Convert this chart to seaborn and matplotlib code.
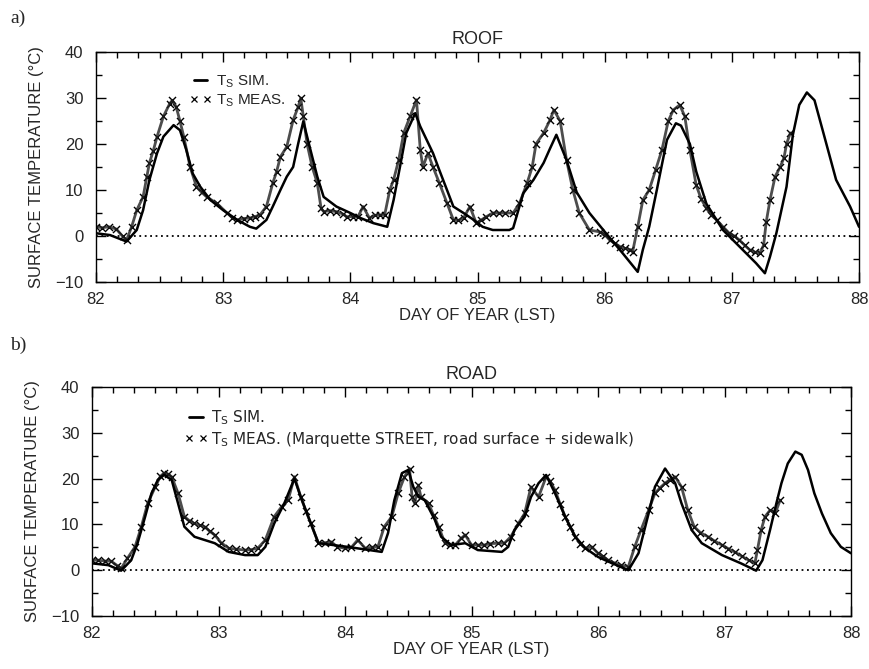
import matplotlib
matplotlib.use("Agg")
import matplotlib.pyplot as plt
from matplotlib.lines import Line2D
from matplotlib.ticker import MultipleLocator
import seaborn as sns

# ---- ROOF (panel a) ----
roof_sim_day = [82.00, 82.11, 82.24, 82.32, 82.37, 82.42, 82.48, 82.53, 82.61, 82.66,
                82.71, 82.76, 82.82, 82.90, 83.00, 83.11, 83.21, 83.26, 83.34, 83.39,
                83.45, 83.50, 83.55, 83.59, 83.63, 83.68, 83.74, 83.79, 83.89, 84.00,
                84.08, 84.18, 84.29, 84.34, 84.39, 84.44, 84.51, 84.55, 84.60, 84.65,
                84.70, 84.76, 84.81, 84.89, 84.97, 85.04, 85.12, 85.25, 85.28, 85.36,
                85.44, 85.52, 85.57, 85.62, 85.70, 85.78, 85.88, 86.01, 86.14, 86.26,
                86.30, 86.35, 86.41, 86.45, 86.49, 86.56, 86.60, 86.67, 86.72, 86.80,
                86.93, 87.06, 87.19, 87.26, 87.30, 87.35, 87.43, 87.48, 87.53, 87.59,
                87.65, 87.72, 87.82, 87.93, 88.00]
roof_sim_temp = [0.6, 0.2, -1.2, 1.3, 5.6, 12.2, 18.0, 21.6, 24.1, 23.0,
                 18.7, 13.6, 10.7, 7.8, 5.6, 3.5, 2.0, 1.6, 3.5, 6.4,
                 10.0, 12.9, 15.0, 20.1, 24.9, 19.4, 12.9, 8.5, 6.4, 5.0,
                 3.9, 2.8, 2.0, 7.8, 15.0, 22.4, 26.7, 23.8, 20.9, 18.0,
                 14.3, 10.0, 6.4, 5.0, 3.5, 2.0, 1.3, 1.3, 1.7, 9.3,
                 12.2, 15.9, 19.0, 22.0, 16.5, 9.5, 5.0, 0.6, -3.7, -7.8,
                 -3.0, 2.0, 10.0, 15.5, 20.9, 24.5, 24.0, 20.0, 14.0, 7.0,
                 1.3, -2.3, -5.9, -8.1, -4.5, 0.6, 10.7, 22.0, 28.5, 31.2,
                 29.5, 22.4, 12.2, 6.4, 2.0]

roof_meas_day = [82.00, 82.05, 82.10, 82.16, 82.21, 82.24, 82.28, 82.32, 82.37, 82.40,
                 82.42, 82.45, 82.48, 82.53, 82.58, 82.60, 82.63, 82.66, 82.69, 82.74,
                 82.79, 82.83, 82.87, 82.95, 83.03, 83.07, 83.11, 83.16, 83.21, 83.25,
                 83.29, 83.34, 83.39, 83.42, 83.45, 83.50, 83.55, 83.59, 83.61, 83.63,
                 83.66, 83.70, 83.74, 83.77, 83.79, 83.84, 83.89, 83.94, 83.97, 84.02,
                 84.06, 84.10, 84.15, 84.19, 84.23, 84.27, 84.31, 84.34, 84.38, 84.42,
                 84.47, 84.52, 84.55, 84.57, 84.61, 84.65, 84.70, 84.76, 84.81, 84.85,
                 84.89, 84.94, 84.99, 85.03, 85.07, 85.12, 85.17, 85.22, 85.28, 85.33,
                 85.39, 85.43, 85.46, 85.52, 85.57, 85.60, 85.65, 85.70, 85.75, 85.80,
                 85.88, 85.96, 86.00, 86.04, 86.08, 86.12, 86.16, 86.20, 86.22, 86.26,
                 86.30, 86.35, 86.40, 86.45, 86.50, 86.54, 86.59, 86.63, 86.67, 86.72,
                 86.76, 86.80, 86.84, 86.88, 86.93, 86.98, 87.02, 87.06, 87.10, 87.14,
                 87.18, 87.22, 87.25, 87.27, 87.30, 87.34, 87.38, 87.41, 87.43, 87.46]
roof_meas_temp = [2.0, 1.8, 2.0, 1.5, -0.1, -0.9, 2.0, 5.6, 8.5, 12.9,
                  15.9, 18.5, 21.6, 26.0, 28.8, 29.5, 28.1, 25.0, 21.6, 15.0,
                  10.7, 9.5, 8.5, 7.1, 5.0, 4.0, 3.5, 3.8, 3.9, 4.2,
                  4.6, 6.4, 11.5, 14.0, 17.2, 19.4, 25.2, 28.1, 30.0, 26.0,
                  20.0, 15.0, 11.5, 6.0, 5.3, 5.5, 5.3, 4.8, 4.2, 4.2,
                  4.2, 6.4, 3.9, 4.5, 4.6, 4.6, 10.0, 12.2, 16.5, 22.4,
                  26.0, 29.6, 18.7, 15.0, 18.0, 15.0, 11.5, 7.1, 3.5, 3.4,
                  3.9, 6.4, 2.8, 3.5, 4.2, 5.0, 5.0, 5.0, 5.0, 7.1,
                  11.5, 15.0, 20.0, 22.4, 25.2, 27.4, 25.0, 16.5, 10.0, 5.0,
                  1.3, 0.9, 0.3, -0.9, -1.6, -2.3, -2.7, -3.0, -3.4, 2.0,
                  7.8, 10.0, 14.3, 18.7, 25.0, 27.4, 28.5, 26.0, 18.7, 11.0,
                  8.0, 6.0, 4.5, 3.5, 2.0, 0.6, 0.0, -0.9, -2.0, -3.0,
                  -3.5, -3.7, -2.0, 3.0, 7.8, 12.9, 15.0, 17.0, 20.0, 22.4]

# ---- ROAD (panel b) ----
road_sim_day = [82.00, 82.13, 82.23, 82.31, 82.36, 82.42, 82.47, 82.52, 82.57, 82.63,
                82.68, 82.73, 82.81, 82.97, 83.08, 83.21, 83.31, 83.37, 83.44, 83.52,
                83.60, 83.65, 83.73, 83.79, 84.02, 84.29, 84.34, 84.39, 84.45, 84.50,
                84.54, 84.58, 84.63, 84.71, 84.76, 84.84, 84.95, 85.05, 85.24, 85.29,
                85.34, 85.42, 85.47, 85.53, 85.59, 85.66, 85.74, 85.82, 85.90, 86.00,
                86.08, 86.24, 86.32, 86.40, 86.45, 86.53, 86.61, 86.66, 86.74, 86.82,
                86.98, 87.13, 87.25, 87.30, 87.36, 87.41, 87.45, 87.50, 87.56, 87.61,
                87.66, 87.71, 87.77, 87.84, 87.92, 88.00]
road_sim_temp = [1.5, 1.1, -0.1, 2.2, 5.9, 11.7, 16.8, 19.7, 20.8, 19.7,
                 14.6, 9.5, 7.3, 5.9, 4.0, 3.3, 3.3, 5.1, 10.2, 14.6,
                 20.0, 16.0, 10.2, 5.9, 5.1, 4.0, 8.1, 15.3, 21.2, 21.9,
                 18.2, 16.0, 15.3, 11.0, 7.3, 5.5, 5.9, 4.4, 4.0, 5.1,
                 8.8, 11.7, 16.0, 19.0, 20.8, 16.8, 11.7, 7.3, 4.8, 2.9,
                 1.9, 0.0, 3.7, 12.4, 18.2, 22.2, 19.0, 14.6, 8.8, 5.9,
                 3.3, 1.5, -0.1, 2.2, 8.8, 14.6, 19.0, 23.3, 25.9, 25.2,
                 21.9, 16.8, 12.4, 8.1, 5.1, 3.7]

road_meas_day = [82.00, 82.05, 82.10, 82.15, 82.20, 82.23, 82.28, 82.34, 82.39, 82.44,
                 82.50, 82.54, 82.57, 82.60, 82.63, 82.68, 82.73, 82.77, 82.81, 82.85,
                 82.89, 82.93, 82.97, 83.02, 83.08, 83.14, 83.21, 83.26, 83.31, 83.37,
                 83.44, 83.50, 83.55, 83.60, 83.65, 83.69, 83.73, 83.79, 83.84, 83.89,
                 83.94, 84.00, 84.05, 84.10, 84.16, 84.21, 84.26, 84.31, 84.37, 84.42,
                 84.47, 84.51, 84.53, 84.55, 84.58, 84.60, 84.66, 84.70, 84.74, 84.79,
                 84.83, 84.87, 84.92, 84.95, 85.00, 85.05, 85.10, 85.15, 85.21, 85.26,
                 85.31, 85.37, 85.42, 85.47, 85.53, 85.59, 85.62, 85.66, 85.70, 85.74,
                 85.78, 85.82, 85.86, 85.90, 85.95, 86.00, 86.04, 86.08, 86.13, 86.18,
                 86.24, 86.29, 86.34, 86.40, 86.45, 86.49, 86.53, 86.57, 86.61, 86.66,
                 86.71, 86.76, 86.81, 86.87, 86.92, 86.98, 87.03, 87.08, 87.14, 87.19,
                 87.24, 87.26, 87.29, 87.32, 87.36, 87.40, 87.44]
road_meas_temp = [2.2, 2.2, 2.0, 2.0, 1.0, 0.4, 2.6, 5.1, 9.5, 14.6,
                  18.2, 20.5, 21.2, 21.0, 20.4, 16.8, 11.7, 10.8, 10.2, 9.8,
                  9.5, 8.5, 7.7, 6.0, 4.8, 4.6, 4.4, 4.5, 4.8, 6.6,
                  11.7, 13.9, 15.3, 20.4, 16.0, 13.0, 10.2, 5.9, 6.0, 6.2,
                  5.1, 4.8, 5.0, 6.6, 4.8, 5.0, 5.1, 9.5, 11.7, 16.8,
                  20.4, 22.2, 16.0, 14.6, 18.6, 16.0, 14.6, 12.0, 9.5, 5.9,
                  5.5, 5.5, 7.0, 7.7, 5.5, 5.5, 5.5, 5.8, 5.9, 5.9,
                  7.3, 10.2, 12.4, 18.2, 16.0, 20.4, 19.5, 17.5, 14.5, 11.7,
                  9.5, 7.3, 5.8, 4.8, 5.1, 3.7, 3.0, 2.2, 1.6, 1.1,
                  0.8, 5.1, 8.8, 13.1, 16.8, 18.0, 19.0, 19.8, 20.4, 18.2,
                  13.1, 9.5, 8.2, 7.3, 6.4, 5.5, 4.7, 4.0, 3.0, 2.2,
                  1.5, 4.4, 8.8, 11.7, 13.1, 12.4, 15.3]

sns.set_style("ticks")
plt.rcParams["font.family"] = ["Liberation Sans", "DejaVu Sans"]

fig = plt.figure(figsize=(8.69, 6.69), dpi=100)
ax_a = fig.add_axes([0.1105, 0.5785, 0.878, 0.3438])
ax_b = fig.add_axes([0.1059, 0.0792, 0.8734, 0.3423])

panels = [
    (ax_a, roof_sim_day, roof_sim_temp, roof_meas_day, roof_meas_temp, "ROOF",
     r"$\mathregular{T_S}$ MEAS.", "Liberation Sans"),
    (ax_b, road_sim_day, road_sim_temp, road_meas_day, road_meas_temp, "ROAD",
     r"$\mathregular{T_S}$ MEAS. (Marquette STREET, road surface + sidewalk)",
     "DejaVu Sans"),
]

for ax, sd, st, md, mt, title, meas_label, leg_font in panels:
    ax.axhline(0, color="black", linestyle=(0, (1, 2)), linewidth=1.3)
    # measured series is very dense in the original -> dark band of x's
    sns.lineplot(x=md, y=mt, ax=ax, color="#202020", linewidth=2.0, sort=False,
                 alpha=0.8)
    sns.scatterplot(x=md, y=mt, ax=ax, marker="x", color="black", s=26,
                    linewidth=1.0)
    sns.lineplot(x=sd, y=st, ax=ax, color="black", linewidth=1.8, sort=False)

    ax.set_xlim(82, 88)
    ax.set_ylim(-10, 40)
    ax.xaxis.set_major_locator(MultipleLocator(1))
    ax.xaxis.set_minor_locator(MultipleLocator(1 / 6))
    ax.yaxis.set_major_locator(MultipleLocator(10))
    ax.yaxis.set_minor_locator(MultipleLocator(5))
    ax.tick_params(which="both", direction="in", top=True, right=True,
                   labelsize=12, color="black", width=1)
    ax.tick_params(which="major", length=7, pad=7)
    ax.tick_params(which="minor", length=4)
    ax.tick_params(axis="y", which="major", pad=9)
    for sp in ax.spines.values():
        sp.set_color("black")
        sp.set_linewidth(1)

    ax.set_title(title, fontsize=13, pad=6)
    ax.set_xlabel("DAY OF YEAR (LST)", fontsize=12, labelpad=1)
    ax.set_ylabel("SURFACE TEMPERATURE (°C)", fontsize=12, labelpad=8)

    handles = [Line2D([], [], color="black", linewidth=2),
               Line2D([], [], color="black", marker="x", linestyle="none",
                      markersize=4, markeredgewidth=0.9)]
    ax.legend(handles, [r"$\mathregular{T_S}$ SIM.", meas_label],
              loc="upper left", bbox_to_anchor=(0.122, 0.905), frameon=False,
              prop={"family": leg_font, "size": 11}, handlelength=1.5,
              handletextpad=0.25, labelspacing=0.15, numpoints=2,
              borderpad=0, borderaxespad=0)

fig.text(0.012, 0.972, "a)", fontsize=14, family="Liberation Serif", va="center")
fig.text(0.012, 0.484, "b)", fontsize=14, family="Liberation Serif", va="center")

plt.savefig("out.png", dpi=100)
